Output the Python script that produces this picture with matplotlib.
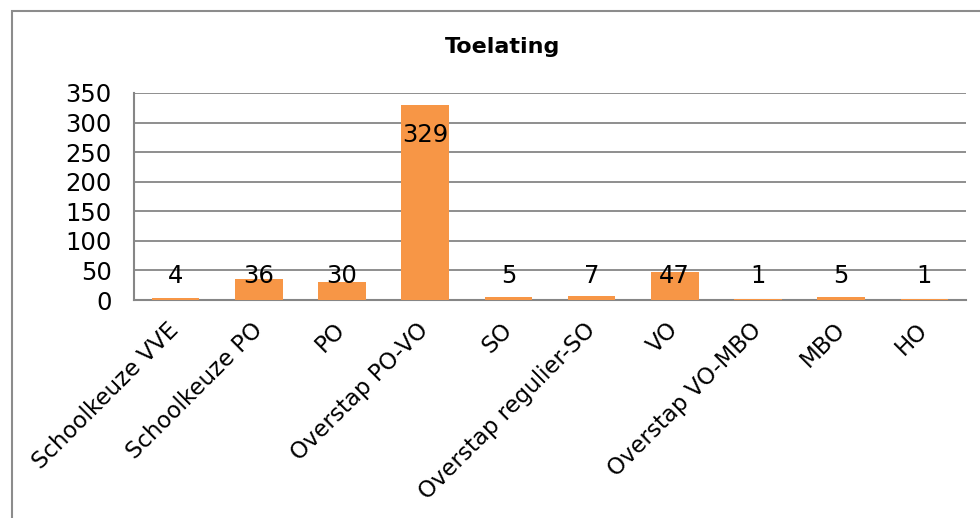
import matplotlib
matplotlib.use("Agg")
import matplotlib.pyplot as plt
from matplotlib.patches import Rectangle

categories = ["Schoolkeuze VVE", "Schoolkeuze PO", "PO", "Overstap PO-VO", "SO",
              "Overstap regulier-SO", "VO", "Overstap VO-MBO", "MBO", "HO"]
values = [4, 36, 30, 329, 5, 7, 47, 1, 5, 1]
yticks = [0, 50, 100, 150, 200, 250, 300, 350]
title = "Toelating"

bar_color = "#F79646"
grid_color = "#868686"
plt.rcParams['font.family'] = ['DejaVu Sans']

fig = plt.figure(figsize=(9.8, 5.18), dpi=100)
ax = fig.add_axes([134/980, 1 - 300/518, (966-134)/980, (300-93)/518])

x = list(range(len(categories)))
ax.bar(x, values, width=0.57, color=bar_color, zorder=3)
ax.set_xlim(-0.5, len(categories) - 0.5)
ax.set_ylim(0, 350)
ax.set_yticks(yticks)
ax.set_yticklabels([str(t) for t in yticks], fontsize=17.5)
ax.yaxis.grid(True, color=grid_color, linewidth=1.3, zorder=0)
ax.tick_params(axis='y', length=0, pad=16)
ax.tick_params(axis='x', length=0, pad=19)
ax.set_xticks(x)
ax.set_xticklabels(categories, rotation=45, ha='right', va='center',
                   rotation_mode='anchor', fontsize=16.5)
for s in ['top', 'right']:
    ax.spines[s].set_visible(False)
for s in ['left', 'bottom']:
    ax.spines[s].set_color(grid_color)
    ax.spines[s].set_linewidth(1.5)

for i, v in enumerate(values):
    if v > 100:
        ax.annotate(str(v), (i, v), xytext=(0, -26), textcoords='offset points',
                    ha='center', va='baseline', fontsize=17.5, zorder=4)
    else:
        ax.annotate(str(v), (i, 0), xytext=(0, 12), textcoords='offset points',
                    ha='center', va='baseline', fontsize=17.5, zorder=4)

fig.text(503/980, 1 - 47/518, title, ha='center', va='center',
         fontsize=16, fontweight='bold')

fig.patches.append(Rectangle((12/980, -0.2), 1.2, 1.2 - 11/518,
                             transform=fig.transFigure, fill=False,
                             edgecolor='#8c8c8c', linewidth=1.5))

fig.savefig("out.png", dpi=100)
